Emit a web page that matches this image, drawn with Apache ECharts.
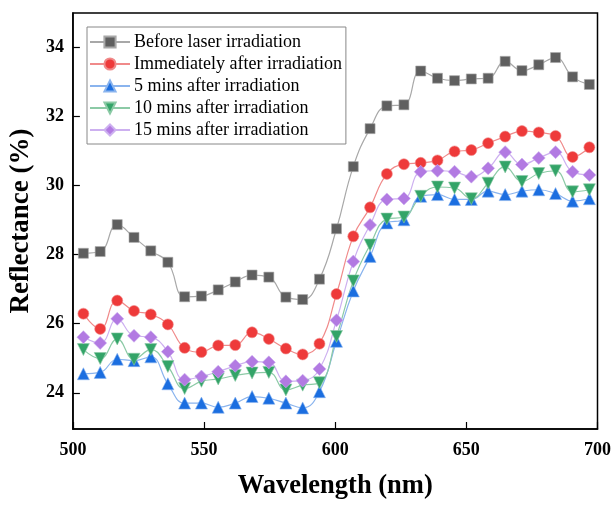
<!DOCTYPE html>
<html>
<head>
<meta charset="utf-8">
<script src="https://cdn.jsdelivr.net/npm/echarts@6/dist/echarts.min.js"></script>
<style>
  html, body { margin: 0; padding: 0; background: #fff; }
  #chart { width: 614px; height: 505px; }
</style>
</head>
<body>
<div id="chart"></div>
<script>
// wavelengths (nm)
var wavelength = [504, 510.4, 516.9, 523.3, 529.7, 536.2, 542.6, 549, 555.4, 561.9, 568.3,
  574.7, 581.2, 587.6, 594, 600.5, 606.9, 613.3, 619.7, 626.2, 632.6, 639, 645.5,
  651.9, 658.3, 664.8, 671.2, 677.6, 684, 690.5, 696.9];

var before = [28.04, 28.09, 28.87, 28.50, 28.11, 27.78, 26.78, 26.80, 26.98, 27.21, 27.41,
  27.35, 26.77, 26.70, 27.29, 28.75, 30.55, 31.65, 32.31, 32.34,
  33.32, 33.11, 33.04, 33.09, 33.11, 33.60, 33.33, 33.50, 33.71, 33.15, 32.93];
var immediately = [26.29, 25.85, 26.67, 26.37, 26.27, 25.98, 25.30, 25.18, 25.37, 25.38, 25.75,
  25.56, 25.28, 25.11, 25.42, 26.86, 28.53, 29.37, 30.34, 30.62,
  30.66, 30.73, 30.99, 31.03, 31.23, 31.42, 31.58, 31.54, 31.44, 30.83, 31.11];
var min5 = [24.55, 24.59, 24.97, 24.93, 25.04, 24.26, 23.70, 23.70, 23.58, 23.70, 23.89,
  23.84, 23.70, 23.56, 24.03, 25.49, 26.95, 27.95, 28.92, 29.01,
  29.69, 29.74, 29.60, 29.60, 29.84, 29.74, 29.84, 29.88, 29.77, 29.55, 29.62];
var min10 = [25.25, 24.99, 25.56, 24.97, 25.25, 24.76, 24.12, 24.33, 24.40, 24.50, 24.57,
  24.59, 24.08, 24.22, 24.29, 25.63, 27.24, 28.28, 29.03, 29.09,
  29.69, 29.96, 29.93, 29.62, 30.07, 30.54, 30.12, 30.35, 30.43, 29.82, 29.88];
var min15 = [25.61, 25.44, 26.14, 25.65, 25.61, 25.19, 24.38, 24.47, 24.61, 24.78, 24.90,
  24.88, 24.33, 24.35, 24.69, 26.10, 27.80, 28.86, 29.60, 29.63,
  30.40, 30.43, 30.40, 30.26, 30.50, 30.97, 30.61, 30.80, 30.97, 30.40, 30.31];

var xTicks = [500, 550, 600, 650, 700];
var yTicks = [24, 26, 28, 30, 32, 34];

var seriesNames = [
  "Before laser irradiation",
  "Immediately after irradiation",
  "5 mins after irradiation",
  "10 mins after irradiation",
  "15 mins after irradiation"
];

var serif = "'Liberation Serif', 'DejaVu Serif', serif";

function pairs(ys) {
  return ys.map(function (y, i) { return [wavelength[i], y]; });
}

// one line series with markers
function makeSeries(name, ys, symbol, size, markColor, lineColor, rotate) {
  return {
    name: name,
    type: "line",
    smooth: 0.45,
    symbol: symbol,
    symbolSize: size,
    symbolRotate: rotate || 0,
    showAllSymbol: true,
    animation: false,
    itemStyle: { color: markColor, borderColor: lineColor, borderWidth: 0.6 },
    lineStyle: { color: lineColor, width: 1.2 },
    data: pairs(ys)
  };
}

var myChart = echarts.init(document.getElementById("chart"));
myChart.setOption({
  backgroundColor: "#ffffff",
  grid: {
    left: 70,
    right: 15,
    top: 13,
    bottom: 67,
    show: true,
    borderColor: "#000",
    borderWidth: 1.5
  },
  legend: {
    orient: "vertical",
    left: 87,
    top: 27,
    padding: [6, 4, 5, 2],
    itemWidth: 40,
    itemHeight: 14,
    itemGap: 4,
    borderColor: "#888",
    borderWidth: 1,
    textStyle: { fontFamily: serif, fontSize: 18, color: "#000", padding: [0, 0, 0, -1] },
    data: seriesNames
  },
  xAxis: {
    type: "value",
    min: 500,
    max: 700,
    interval: 50,
    name: "Wavelength (nm)",
    nameLocation: "middle",
    nameGap: 44,
    nameTextStyle: { fontFamily: serif, fontSize: 26.5, fontWeight: "bold", color: "#000" },
    axisLine: { show: true, lineStyle: { color: "#000", width: 1.5 } },
    axisTick: { show: true, inside: true, length: 7, lineStyle: { color: "#000", width: 1.2 }, customValues: xTicks },
    axisLabel: { fontFamily: serif, fontSize: 18, fontWeight: "bold", color: "#000", margin: 12, customValues: xTicks },
    splitLine: { show: false }
  },
  yAxis: {
    type: "value",
    min: 22.95,
    max: 35,
    name: "Reflectance (%)",
    nameLocation: "middle",
    nameGap: 34,
    nameRotate: 90,
    nameTextStyle: { fontFamily: serif, fontSize: 27, fontWeight: "bold", color: "#000" },
    axisLine: { show: true, lineStyle: { color: "#000", width: 1.5 } },
    axisTick: { show: true, inside: true, length: 7, lineStyle: { color: "#000", width: 1.2 }, customValues: yTicks },
    axisLabel: { fontFamily: serif, fontSize: 18, fontWeight: "bold", color: "#000", margin: 9, customValues: yTicks },
    splitLine: { show: false }
  },
  series: [
    makeSeries(seriesNames[0], before, "rect", 10, "#5f5f5f", "#a8a8a8"),
    makeSeries(seriesNames[1], immediately, "circle", 11, "#ee3a3a", "#f08a8a"),
    makeSeries(seriesNames[2], min5, "triangle", 12, "#1b6ee0", "#8ab4ee"),
    makeSeries(seriesNames[3], min10, "triangle", 12, "#33a468", "#8ccaa6", 180),
    makeSeries(seriesNames[4], min15, "diamond", 13, "#b27ae2", "#cdb0f0")
  ]
});
</script>
</body>
</html>
